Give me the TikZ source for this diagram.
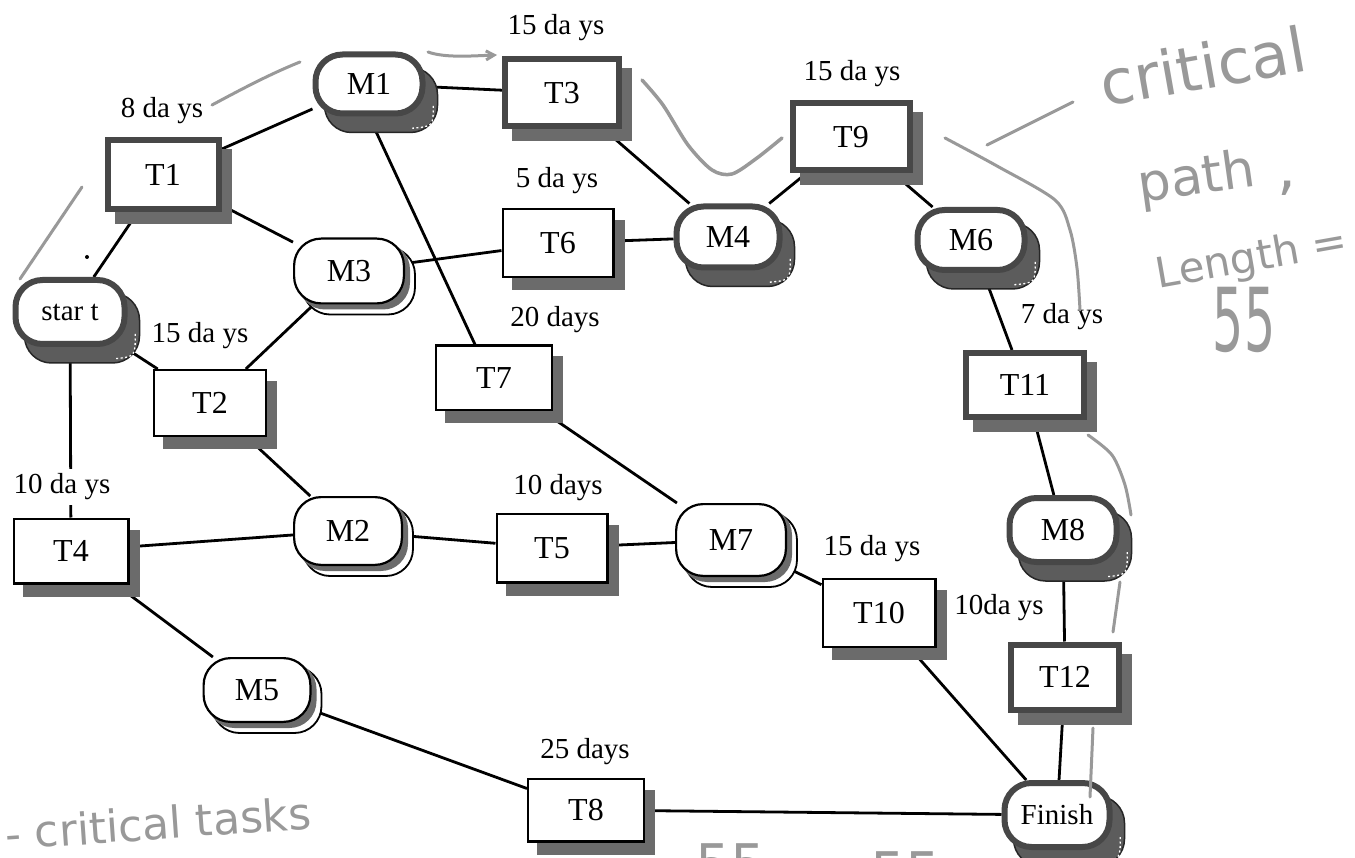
\documentclass[tikz,border=0pt]{standalone}
\usepackage{fontspec}
\setmainfont{Liberation Serif}
\newfontfamily\handfont{DejaVu Sans}
\usetikzlibrary{calc,arrows.meta}
\pgfdeclarelayer{paper}
\pgfdeclarelayer{lines}
\pgfsetlayers{paper,lines,main}
\definecolor{pencil}{gray}{0.6}
\definecolor{shade}{gray}{0.42}
\definecolor{cshade}{gray}{0.36}
\definecolor{cborder}{gray}{0.28}
\tikzset{
 nodefont/.style={font=\fontsize{32}{36}\selectfont},
 lab/.style={font=\fontsize{29}{34}\selectfont, inner sep=0pt},
 conn/.style={line width=2.8pt, black},
 pen/.style={draw=pencil, line width=3pt, line cap=round, line join=round},
 hand/.style={text=pencil, inner sep=0pt},
 tshadow/.style={rectangle, fill=shade, draw=none, inner sep=0pt},
 ttask/.style={rectangle, fill=white, draw=black, line width=2.2pt, inner sep=0pt, nodefont},
 ctask/.style={rectangle, fill=white, draw=cborder, line width=6pt, inner sep=0pt, nodefont},
 mshadowout/.style={rectangle, rounded corners=27pt, fill=white, draw=black, line width=1.8pt, inner sep=0pt},
 mshadowin/.style={rectangle, rounded corners=27pt, fill=shade, draw=none, inner sep=0pt},
 mile/.style={rectangle, rounded corners=27pt, fill=white, draw=black, line width=2.2pt, inner sep=0pt, nodefont},
 cmshadow/.style={rectangle, rounded corners=27pt, fill=cshade, draw=black!85, line width=1.5pt, inner sep=0pt},
 cmile/.style={rectangle, rounded corners=27pt, fill=white, draw=cborder, line width=6pt, inner sep=0pt, nodefont},
 specks/.style={white, line width=1.3pt, dash pattern=on 2pt off 2.5pt},
}
\newcommand\TaskN[6]{%
 \node[tshadow, minimum width=#4pt, minimum height=#5pt] (#1s) at (#2+10,#3+12) {};
 \node[ttask, minimum width=#4pt-2.2pt, minimum height=#5pt-2.2pt] (#1) at (#2,#3) {#6};}
\newcommand\TaskC[6]{%
 \node[tshadow, minimum width=#4pt, minimum height=#5pt] (#1s) at (#2+10,#3+12) {};
 \node[ctask, minimum width=#4pt-6pt, minimum height=#5pt-6pt] (#1) at (#2,#3) {#6};}
\newcommand\MileN[6]{%
 \node[mshadowout, minimum width=#4pt, minimum height=#5pt] (#1o) at (#2+10,#3+10) {};
 \node[mshadowin, minimum width=#4pt, minimum height=#5pt] (#1s) at (#2+5,#3+5) {};
 \node[mile, minimum width=#4pt-2.2pt, minimum height=#5pt-2.2pt] (#1) at (#2,#3) {#6};}
\newcommand\MileC[6]{%
 \node[cmshadow, minimum width=#4pt, minimum height=#5pt] (#1s) at (#2+12,#3+16) {};
 \draw[specks] ($(#1s.east)+(-5,6)$) .. controls ($(#1s.south east)+(-5,-7)$) .. ($(#1s.south east)+(-26,-5)$);
 \node[cmile, minimum width=#4pt-6pt, minimum height=#5pt-6pt] (#1) at (#2,#3) {#6};}

\begin{document}
\begin{tikzpicture}[x=1pt,y=-1pt]
\useasboundingbox (0,0) rectangle (1355,858);
\begin{pgfonlayer}{paper}
\fill[white] (0,0) rectangle (1355,858);
\end{pgfonlayer}

% nodes
\TaskC{T1}{163}{175}{117}{75}{T1}
\MileC{M1}{369}{84}{113}{65}{M1}
\TaskC{T3}{562}{93}{120}{73}{T3}
\TaskC{T9}{851}{137}{123}{73}{T9}
\TaskN{T6}{558}{243}{113}{70}{T6}
\MileC{M4}{728}{237}{109}{67}{M4}
\MileC{M6}{971}{240}{113}{66}{M6}
\MileN{M3}{349}{271}{112}{67}{M3}
\MileC{start}{70}{312}{115}{70}{\fontsize{29}{34}\selectfont star t}
\TaskN{T2}{210}{403}{114}{68}{T2}
\TaskN{T7}{494}{378}{118}{67}{T7}
\TaskC{T11}{1025}{385}{124}{70}{T11}
\MileC{M8}{1063}{530}{113}{70}{M8}
\TaskN{T4}{71}{551}{117}{67}{T4}
\MileN{M2}{348}{531}{110}{70}{M2}
\TaskN{T5}{552}{548}{113}{71}{T5}
\MileN{M7}{731}{540}{112}{74}{M7}
\TaskN{T10}{879}{613}{115}{70}{T10}
\TaskC{T12}{1065}{677}{114}{71}{T12}
\MileN{M5}{257}{690}{109}{66}{M5}
\TaskN{T8}{586}{810}{118}{65}{T8}
\MileC{Finish}{1057}{815}{111}{70}{\fontsize{29}{34}\selectfont Finish}

% duration labels
\node[lab] (l1) at (162,111) {8 da ys};
\node[lab] (l3) at (556,28) {15 da ys};
\node[lab] (l9) at (852,74) {15 da ys};
\node[lab] (l6) at (557,181) {5 da ys};
\node[lab] (l7) at (555,320) {20 days};
\node[lab] (l2) at (200,336) {15 da ys};
\node[lab, fill=white, inner sep=5pt] (l4) at (62,487) {10 da ys};
\node[lab] (l5) at (558,488) {10 days};
\node[lab] (l10) at (872,549) {15 da ys};
\node[lab] (l11) at (1062,317) {7 da ys};
\node[lab] (l12) at (999,608) {10da ys};
\node[lab] (l8) at (585,752) {25 days};

% connectors
\begin{pgfonlayer}{lines}
\draw[conn] (start) -- (T1);
\draw[conn] (start) -- (T2);
\draw[conn] (start) -- (T4);
\draw[conn] (T1) -- (M1);
\draw[conn] (T1) -- (M3);
\draw[conn] (M1) -- (T3);
\draw[conn] (M1.south) -- ([xshift=-19pt]T7.north);
\draw[conn] (T3) -- (M4);
\draw[conn] (M3) -- (T6);
\draw[conn] (T6) -- (M4);
\draw[conn] (M4) -- (T9);
\draw[conn] (T9) -- (M6);
\draw[conn] (M6) -- (T11);
\draw[conn] (T11) -- (M8);
\draw[conn] (M8) -- (T12);
\draw[conn] (T12) -- (Finish);
\draw[conn] (T2) -- (M3);
\draw[conn] (T2) -- (M2);
\draw[conn] (T4) -- (M2);
\draw[conn] (T4) -- (M5);
\draw[conn] (M2) -- (T5);
\draw[conn] (T5) -- (M7);
\draw[conn] (T7) -- (M7);
\draw[conn] (M7) -- (T10);
\draw[conn] (T10) -- (Finish);
\draw[conn] (M5) -- (T8);
\draw[conn] (T8) -- (Finish);
\end{pgfonlayer}

% pencil marks
\draw[pen] (20,279) -- (82,187);
\fill[black] (87,257) circle (2);
\draw[pen] (212,105) .. controls (240,90) and (270,74) .. (300,62);
\draw[pen, -{Straight Barb[length=8pt,width=9pt]}] (428,52) .. controls (445,58) and (470,56) .. (497,55);
\draw[pen, line width=3.5pt] plot[smooth] coordinates {(642,80) (663,105) (688,145) (712,170) (732,174) (757,158) (782,138)};
\draw[pen] (987,145) -- (1073,102);
\draw[pen] plot[smooth] coordinates {(945,138) (997,166) (1055,200) (1070,230) (1077,268) (1080,310)};
\draw[pen] plot[smooth] coordinates {(1088,435) (1112,455) (1125,485) (1131,515)};
\draw[pen] (1120,582) -- (1113,632);
\draw[pen] (1093,728) -- (1090,797);

% handwriting
\node[hand, font=\handfont\fontsize{62}{66}\selectfont, rotate=10] (hw1) at (1203,66) {critical};
\node[hand, font=\handfont\fontsize{52}{56}\selectfont, rotate=8] (hw2) at (1197,180) {path};
\node[hand, font=\handfont\fontsize{60}{64}\selectfont] (hw3) at (1287,188) {,};
\node[hand, font=\handfont\fontsize{42}{46}\selectfont, rotate=10] (hw4) at (1252,260) {Length =};
\node[hand, font=\handfont\fontsize{49}{52}\selectfont] (hw5) at (1244,320) {\scalebox{1}[1.8]{55}};
\node[hand, font=\handfont\fontsize{44}{48}\selectfont, rotate=4] (hw6) at (158,823) {- critical tasks};
\node[hand, font=\handfont\fontsize{56}{60}\selectfont, anchor=north] (hw7) at (731,843) {55};
\node[hand, font=\handfont\fontsize{56}{60}\selectfont, anchor=north] (hw8) at (906,851) {55};
\end{tikzpicture}
\end{document}
